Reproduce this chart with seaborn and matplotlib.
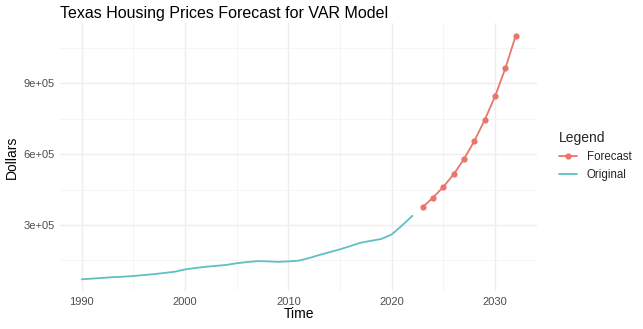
import matplotlib
matplotlib.use("Agg")
import matplotlib.pyplot as plt
from matplotlib.ticker import MultipleLocator, FuncFormatter
from matplotlib.lines import Line2D
import seaborn as sns
import pandas as pd

orig_years = list(range(1990, 2023))
orig_values = [70000, 73000, 76000, 79000, 81000, 84000, 88000, 92000, 97000, 102000,
               112000, 118000, 123000, 127000, 131000, 138000, 143000, 147000, 146000, 144000,
               146000, 149000, 160000, 173000, 185000, 197000, 211000, 225000, 233000, 241000,
               260000, 298000, 339000]
fc_years = list(range(2023, 2033))
fc_values = [376000, 416000, 462000, 515000, 580000, 656000, 745000, 845000, 964000, 1102000]

title = "Texas Housing Prices Forecast for VAR Model"
col_fc = "#E8766C"
col_or = "#5FBFC4"

sns.set_style("white")
plt.rcParams["font.family"] = ["Liberation Sans", "DejaVu Sans"]

df_o = pd.DataFrame({"Time": orig_years, "Dollars": orig_values})
df_f = pd.DataFrame({"Time": fc_years, "Dollars": fc_values})

fig = plt.figure(figsize=(6.43, 3.29), dpi=100)
ax = fig.add_axes([0.0933, 0.114, 0.7425, 0.8146])

sns.lineplot(data=df_o, x="Time", y="Dollars", color=col_or, linewidth=1.3, ax=ax)
sns.lineplot(data=df_f, x="Time", y="Dollars", color=col_fc, linewidth=1.3,
             marker="o", markersize=4.5, markeredgewidth=0, ax=ax)

ax.set_xlim(1987.9, 2034.1)
ax.set_ylim(18400, 1153600)
ax.xaxis.set_major_locator(MultipleLocator(10))
ax.xaxis.set_minor_locator(MultipleLocator(5))
ax.yaxis.set_major_locator(MultipleLocator(300000))
ax.yaxis.set_minor_locator(MultipleLocator(150000))
ax.yaxis.set_major_formatter(FuncFormatter(lambda v, p: f"{v:.0e}"))
ax.grid(True, which="major", color="#EEEEEE", linewidth=1.0)
ax.grid(True, which="minor", color="#F4F4F4", linewidth=0.6)
ax.set_axisbelow(True)
for s in ax.spines.values():
    s.set_visible(False)
ax.tick_params(which="both", length=0, labelsize=8, labelcolor="#4D4D4D", pad=4)
ax.set_xlabel("Time", fontsize=10, color="black", labelpad=0)
ax.set_ylabel("Dollars", fontsize=10, color="black", labelpad=3)

fig.text(0.0933, 0.96, title, fontsize=11.5, ha="left", va="center", color="black")

handles = [Line2D([0], [0], color=col_fc, linewidth=1.3, marker="o", markersize=4.5, markeredgewidth=0),
           Line2D([0], [0], color=col_or, linewidth=1.3)]
leg = fig.legend(handles, ["Forecast", "Original"], title="Legend", loc="upper left",
                 bbox_to_anchor=(0.853, 0.633), frameon=False, fontsize=8.3,
                 title_fontsize=10, handlelength=1.6, handletextpad=0.8, labelspacing=0.5)
leg._legend_box.align = "left"

fig.savefig("out.png", dpi=100)
